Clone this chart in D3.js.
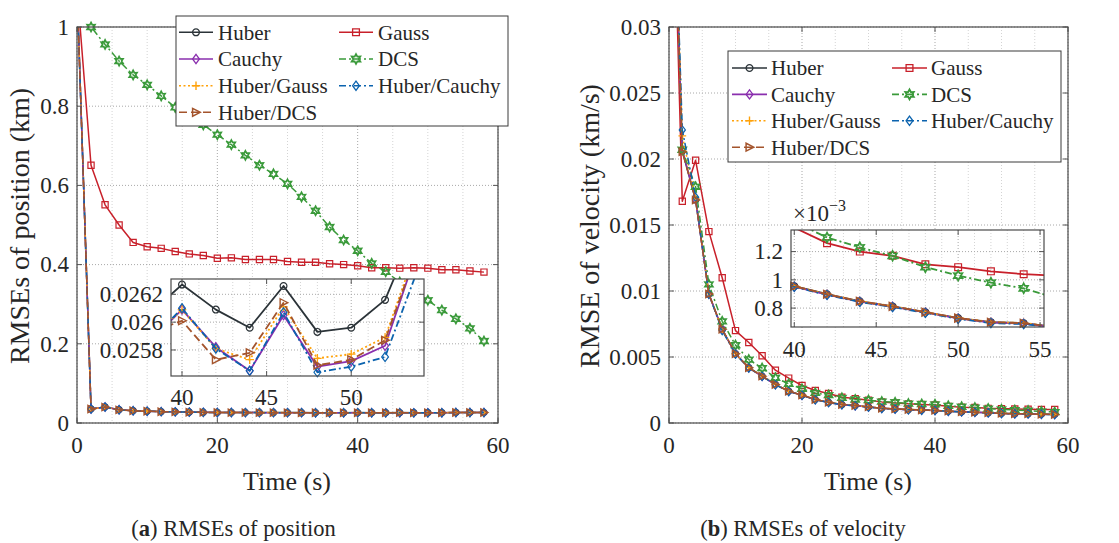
<!DOCTYPE html>
<html><head><meta charset="utf-8">
<script src="https://cdn.jsdelivr.net/npm/d3@7"></script>
<style>
body{margin:0;background:#fff}
svg{display:block}
text{font-family:"Liberation Serif","Times New Roman",serif;fill:#262626}
</style>
</head><body><script>
// ---------------- data ----------------
const time = [0,2,4,6,8,10,12,14,16,18,20,22,24,26,28,30,32,34,36,38,40,42,44,46,48,50,52,54,56,58];
const seriesNames = ["Huber","Gauss","Cauchy","DCS","Huber/Gauss","Huber/Cauchy","Huber/DCS"];

// RMSE of position (km)
const posHuber       = [1.1,0.0355,0.0405,0.0335,0.0312,0.0300,0.0288,0.0284,0.0276,0.0271,0.0268,0.0266,0.0265,0.0264,0.0264,0.0263,0.0263,0.0262,0.0262,0.02605,0.02627,0.02609,0.02596,0.02626,0.02593,0.02596,0.02616,0.02674,0.0266,0.0265];
const posGauss       = [1.1,0.651,0.551,0.500,0.456,0.445,0.441,0.433,0.427,0.423,0.416,0.417,0.413,0.413,0.413,0.408,0.406,0.406,0.402,0.400,0.397,0.392,0.392,0.391,0.392,0.391,0.387,0.387,0.384,0.381];
const posCauchy      = [1.1,0.0353,0.0403,0.0333,0.0310,0.0298,0.0286,0.0282,0.0274,0.0269,0.0266,0.0264,0.0263,0.0262,0.0262,0.0261,0.0261,0.0260,0.0260,0.02585,0.02609,0.02582,0.02565,0.02605,0.02568,0.02572,0.02583,0.02655,0.0265,0.0264];
const posDCS         = [1.1,1.0,0.956,0.914,0.879,0.854,0.826,0.797,0.776,0.753,0.728,0.703,0.676,0.651,0.629,0.604,0.571,0.536,0.495,0.462,0.435,0.403,0.382,0.356,0.333,0.310,0.285,0.263,0.239,0.207];
const posHuberGauss  = [1.1,0.0354,0.0404,0.0334,0.0311,0.0299,0.0287,0.0283,0.0275,0.0270,0.0267,0.0265,0.0264,0.0263,0.0263,0.0262,0.0262,0.0261,0.0261,0.02586,0.02609,0.02581,0.02573,0.02611,0.02574,0.02577,0.02589,0.02658,0.0265,0.0264];
const posHuberCauchy = [1.1,0.0353,0.0403,0.0333,0.0310,0.0298,0.0286,0.0282,0.0274,0.0269,0.0266,0.0264,0.0263,0.0262,0.0262,0.0261,0.0261,0.0260,0.0260,0.02585,0.02610,0.02581,0.02565,0.02607,0.02564,0.02568,0.02575,0.02640,0.0264,0.0263];
const posHuberDCS    = [1.1,0.0352,0.0402,0.0332,0.0309,0.0297,0.0285,0.0281,0.0273,0.0268,0.0265,0.0263,0.0262,0.0261,0.0261,0.0260,0.0260,0.0260,0.0260,0.02592,0.02601,0.02573,0.02578,0.02614,0.02569,0.02573,0.02587,0.02655,0.0265,0.0264];

// RMSE of velocity (km/s)
const velHuber       = [0.053,0.0206,0.0169,0.00977,0.0071,0.00525,0.00419,0.00355,0.00292,0.00241,0.00211,0.00178,0.00157,0.00140,0.00132,0.00122,0.00112,0.00107,0.00102,0.00099,0.000955,0.000898,0.000848,0.000812,0.000771,0.000729,0.000700,0.000693,0.000665,0.000650];
const velGauss       = [0.053,0.0168,0.0199,0.0145,0.0110,0.0070,0.0061,0.0051,0.0040,0.0034,0.00284,0.00246,0.00223,0.00195,0.00185,0.00173,0.00160,0.00152,0.00145,0.00141,0.00137,0.00126,0.00120,0.00117,0.00111,0.00109,0.00106,0.00104,0.00103,0.00102];
const velCauchy      = [0.053,0.0207,0.0169,0.00976,0.0071,0.00524,0.00418,0.00354,0.00291,0.00240,0.00210,0.00177,0.00156,0.00139,0.00131,0.00121,0.00111,0.00106,0.00101,0.00098,0.000952,0.000895,0.000846,0.000810,0.000769,0.000727,0.000698,0.000690,0.000663,0.000648];
const velDCS         = [0.053,0.0207,0.0179,0.0105,0.0077,0.0059,0.0048,0.00416,0.00343,0.00297,0.00259,0.00228,0.00211,0.00190,0.00178,0.00173,0.00162,0.00157,0.00147,0.00144,0.00141,0.00130,0.00123,0.00117,0.00109,0.00103,0.00098,0.00094,0.00087,0.00083];
const velHuberGauss  = [0.053,0.02175,0.0170,0.00978,0.0071,0.00526,0.00420,0.00356,0.00292,0.00241,0.00211,0.00178,0.00157,0.00140,0.00132,0.00122,0.00112,0.00107,0.00102,0.00099,0.000956,0.000899,0.000849,0.000813,0.000772,0.000730,0.000701,0.000694,0.000666,0.000651];
const velHuberCauchy = [0.053,0.0222,0.0171,0.00975,0.0070,0.00523,0.00417,0.00353,0.00290,0.00239,0.00209,0.00176,0.00155,0.00138,0.00130,0.00120,0.00110,0.00105,0.00100,0.00097,0.000950,0.000893,0.000843,0.000807,0.000766,0.000724,0.000694,0.000687,0.000660,0.000645];
const velHuberDCS    = [0.053,0.02055,0.0169,0.00977,0.0071,0.00525,0.00419,0.00355,0.00292,0.00241,0.00211,0.00178,0.00157,0.00140,0.00132,0.00122,0.00112,0.00107,0.00102,0.00099,0.000955,0.000898,0.000848,0.000812,0.000771,0.000729,0.000700,0.000693,0.000665,0.000650];

// tick values
const mainXTicks = [0,20,40,60];
const posYTicks = [0,0.2,0.4,0.6,0.8,1];
const velYTicks = [0,0.005,0.01,0.015,0.02,0.025,0.03];
const posInsetXTicks = [40,45,50];
const posInsetYTicks = [0.0258,0.026,0.0262];
const velInsetXTicks = [40,45,50,55];
const velInsetYTicks = [0.0008,0.001,0.0012];

// ---------------- styles ----------------
const styles = {
  "Huber":        {color:"#2b3338", dash:null,        marker:"circle",   mw:1.2},
  "Gauss":        {color:"#c8202a", dash:null,        marker:"square",   mw:1.2},
  "Cauchy":       {color:"#8a2fae", dash:null,        marker:"diamond",  mw:1.2},
  "DCS":          {color:"#3a9a3a", dash:"7,3,2,3",   marker:"hexagram", mw:1.7},
  "Huber/Gauss":  {color:"#ffa20a", dash:"2,2.5",     marker:"plus",     mw:1.3},
  "Huber/Cauchy": {color:"#0b63ae", dash:"7,3,2,3",   marker:"diamond",  mw:1.2},
  "Huber/DCS":    {color:"#a4542c", dash:"8,4",       marker:"triright", mw:1.4}
};
const posSeries = [posHuber,posGauss,posCauchy,posDCS,posHuberGauss,posHuberCauchy,posHuberDCS];
const velSeries = [velHuber,velGauss,velCauchy,velDCS,velHuberGauss,velHuberCauchy,velHuberDCS];

function markerPath(type, r){
  switch(type){
    case "circle": return `M${r},0A${r},${r} 0 1,1 ${-r},0A${r},${r} 0 1,1 ${r},0Z`;
    case "square": return `M${-r},${-r}H${r}V${r}H${-r}Z`;
    case "diamond": return `M0,${-r*1.35}L${r},0L0,${r*1.35}L${-r},0Z`;
    case "plus": return `M${-r*1.25},0H${r*1.25}M0,${-r*1.25}V${r*1.25}`;
    case "triright": return `M${-r},${-r*1.15}L${r*1.25},0L${-r},${r*1.15}Z`;
    case "hexagram": {
      let p=[]; for(let i=0;i<12;i++){const a=-Math.PI/2+i*Math.PI/6; const rr=(i%2===0)?r*1.45:r*0.8; p.push([rr*Math.cos(a), rr*Math.sin(a)]);}
      return "M"+p.map(d=>d[0].toFixed(2)+","+d[1].toFixed(2)).join("L")+"Z";
    }
  }
}

const W=1119, H=543;
const svg = d3.select("body").append("svg").attr("width",W).attr("height",H)
  .attr("font-family","'Liberation Serif','Times New Roman',serif");
let clipCount=0;

function drawAxes(g, x, y, o){
  const [x0,x1]=x.range(), [y0,y1]=y.range();
  g.append("rect").attr("x",x0).attr("y",y1).attr("width",x1-x0).attr("height",y0-y1).attr("fill","#fff");
  const mn = [];
  for(let v=Math.ceil(x.domain()[0]/o.minor)*o.minor; v<=x.domain()[1]+1e-9; v+=o.minor){ if(!o.xTicks.some(t=>Math.abs(t-v)<1e-9)) mn.push(v); }
  g.selectAll(null).data(mn).enter().append("line")
    .attr("x1",d=>x(d)).attr("x2",d=>x(d)).attr("y1",y1).attr("y2",y0)
    .attr("stroke","#d4d4d4").attr("stroke-width",1).attr("stroke-dasharray","1,2");
  g.selectAll(null).data(o.xTicks).enter().append("line")
    .attr("x1",d=>x(d)).attr("x2",d=>x(d)).attr("y1",y1).attr("y2",y0)
    .attr("stroke","#a8a8a8").attr("stroke-width",1).attr("stroke-dasharray","1,2");
  g.selectAll(null).data(o.yTicks).enter().append("line")
    .attr("y1",d=>y(d)).attr("y2",d=>y(d)).attr("x1",x0).attr("x2",x1)
    .attr("stroke","#a8a8a8").attr("stroke-width",1).attr("stroke-dasharray","1,2");
}
function drawFrame(g, x, y, o){
  const [x0,x1]=x.range(), [y0,y1]=y.range();
  const tl=5;
  g.selectAll(null).data(o.xTicks).enter().append("path")
    .attr("d",d=>`M${x(d)},${y0}v${-tl}M${x(d)},${y1}v${tl}`).attr("stroke","#555").attr("stroke-width",1);
  g.selectAll(null).data(o.yTicks).enter().append("path")
    .attr("d",d=>`M${x0},${y(d)}h${tl}M${x1},${y(d)}h${-tl}`).attr("stroke","#555").attr("stroke-width",1);
  g.append("rect").attr("x",x0).attr("y",y1).attr("width",x1-x0).attr("height",y0-y1)
    .attr("fill","none").attr("stroke","#4a4a4a").attr("stroke-width",1.2);
  g.selectAll(null).data(o.xTicks).enter().append("text")
    .attr("x",d=>x(d)).attr("y",y0+o.xLabelOff).attr("text-anchor","middle").attr("font-size",o.fs)
    .text(d=>o.xFmt?o.xFmt(d):String(d));
  g.selectAll(null).data(o.yTicks).enter().append("text")
    .attr("x",x0-8).attr("y",d=>y(d)+o.fs*0.34).attr("text-anchor","end").attr("font-size",o.fs)
    .text(d=>o.yFmt?o.yFmt(d):String(d));
}
function drawSeries(g, x, y, dataList, lw, mr){
  const id="clip"+(clipCount++);
  const [x0,x1]=x.range(), [y0,y1]=y.range();
  g.append("clipPath").attr("id",id).append("rect").attr("x",x0).attr("y",y1).attr("width",x1-x0).attr("height",y0-y1);
  const [dx0,dx1]=x.domain(), [dy0,dy1]=y.domain();
  const eps=(dy1-dy0)*1e-4;
  seriesNames.forEach((name,i)=>{
    const st=styles[name];
    const pts=time.map((t,k)=>[t,dataList[i][k]]);
    const line=d3.line().x(d=>x(d[0])).y(d=>y(d[1]));
    g.append("path").attr("d",line(pts)).attr("clip-path",`url(#${id})`)
      .attr("fill","none").attr("stroke",st.color).attr("stroke-width",lw)
      .attr("stroke-dasharray",st.dash).attr("stroke-linejoin","round");
    const vis=pts.filter(d=>d[0]>=dx0&&d[0]<=dx1&&d[1]>=dy0-eps&&d[1]<=dy1+eps);
    g.selectAll(null).data(vis).enter().append("path")
      .attr("transform",d=>`translate(${x(d[0])},${y(d[1])})`)
      .attr("d",markerPath(st.marker,mr)).attr("fill","none")
      .attr("stroke",st.color).attr("stroke-width",st.mw);
  });
}
function drawLegend(g, box, rows, cols){
  g.append("rect").attr("x",box[0]).attr("y",box[1]).attr("width",box[2]-box[0]).attr("height",box[3]-box[1])
    .attr("fill","#fff").attr("stroke","#3a3a3a").attr("stroke-width",1);
  seriesNames.forEach((name,i)=>{
    const st=styles[name];
    const r=Math.floor(i/2), c=i%2;
    const cy=rows[r], [lx0,lx1,tx]=cols[c];
    g.append("line").attr("x1",lx0).attr("x2",lx1).attr("y1",cy).attr("y2",cy)
      .attr("stroke",st.color).attr("stroke-width",1.6).attr("stroke-dasharray",st.dash);
    g.append("path").attr("transform",`translate(${(lx0+lx1)/2},${cy})`).attr("d",markerPath(st.marker,3.4))
      .attr("fill","none").attr("stroke",st.color).attr("stroke-width",st.mw+0.1);
    g.append("text").attr("x",tx).attr("y",cy+7.3).attr("font-size",21).text(name);
  });
}

// ---------------- panel (a) ----------------
const gA = svg.append("g");
const xA = d3.scaleLinear().domain([0,60]).range([77,498]);
const yA = d3.scaleLinear().domain([0,1]).range([423,27]);
drawAxes(gA,xA,yA,{xTicks:mainXTicks,yTicks:posYTicks,minor:5});
drawSeries(gA,xA,yA,posSeries,1.5,3.1);
drawFrame(gA,xA,yA,{xTicks:mainXTicks,yTicks:posYTicks,fs:23,xLabelOff:30});
const xAi = d3.scaleLinear().domain([39.35,54.3]).range([171,424]);
const yAi = d3.scaleLinear().domain([0.025613,0.02631]).range([376,279]);
drawAxes(gA,xAi,yAi,{xTicks:posInsetXTicks,yTicks:posInsetYTicks,minor:1});
drawSeries(gA,xAi,yAi,posSeries,1.8,3.4);
drawFrame(gA,xAi,yAi,{xTicks:posInsetXTicks,yTicks:posInsetYTicks,fs:23,xLabelOff:29});
drawLegend(gA,[176,16,508,126],[32.3,59,85.7,112.3],[[179,213,218],[339,373,378]]);
gA.append("text").attr("x",287).attr("y",490).attr("text-anchor","middle").attr("font-size",26).text("Time (s)");
gA.append("text").attr("transform","translate(29,226) rotate(-90)").attr("text-anchor","middle").attr("font-size",28).text("RMSEs of position (km)");
const capA = gA.append("text").attr("x",233.5).attr("y",536).attr("text-anchor","middle").attr("font-size",22.5);
capA.append("tspan").text("(");
capA.append("tspan").attr("font-weight","bold").text("a");
capA.append("tspan").text(") RMSEs of position");

// ---------------- panel (b) ----------------
const gB = svg.append("g");
const xB = d3.scaleLinear().domain([0,60]).range([669,1068]);
const yB = d3.scaleLinear().domain([0,0.03]).range([423,27]);
drawAxes(gB,xB,yB,{xTicks:mainXTicks,yTicks:velYTicks,minor:5});
drawSeries(gB,xB,yB,velSeries,1.5,3.1);
drawFrame(gB,xB,yB,{xTicks:mainXTicks,yTicks:velYTicks,fs:23,xLabelOff:30});
const xBi = d3.scaleLinear().domain([39.8,55.24]).range([791,1044]);
const yBi = d3.scaleLinear().domain([0.000666,0.001353]).range([327,230]);
drawAxes(gB,xBi,yBi,{xTicks:velInsetXTicks,yTicks:velInsetYTicks,minor:1});
drawSeries(gB,xBi,yBi,velSeries,1.8,3.4);
drawFrame(gB,xBi,yBi,{xTicks:velInsetXTicks,yTicks:velInsetYTicks,fs:23,xLabelOff:30,yFmt:d=>String(+(d*1000).toFixed(1))});
const mult = gB.append("text").attr("x",793).attr("y",221).attr("font-size",23);
mult.append("tspan").text("×10");
mult.append("tspan").attr("dy",-10).attr("font-size",16).text("−3");
drawLegend(gB,[728,51,1061,162],[68,94.4,120.8,147.2],[[732,767,771],[892,927,931]]);
gB.append("text").attr("x",868).attr("y",490).attr("text-anchor","middle").attr("font-size",26).text("Time (s)");
gB.append("text").attr("transform","translate(599,226) rotate(-90)").attr("text-anchor","middle").attr("font-size",28).text("RMSE of velocity (km/s)");
const capB = gB.append("text").attr("x",803).attr("y",536).attr("text-anchor","middle").attr("font-size",22.5);
capB.append("tspan").text("(");
capB.append("tspan").attr("font-weight","bold").text("b");
capB.append("tspan").text(") RMSEs of velocity");
</script></body></html>
